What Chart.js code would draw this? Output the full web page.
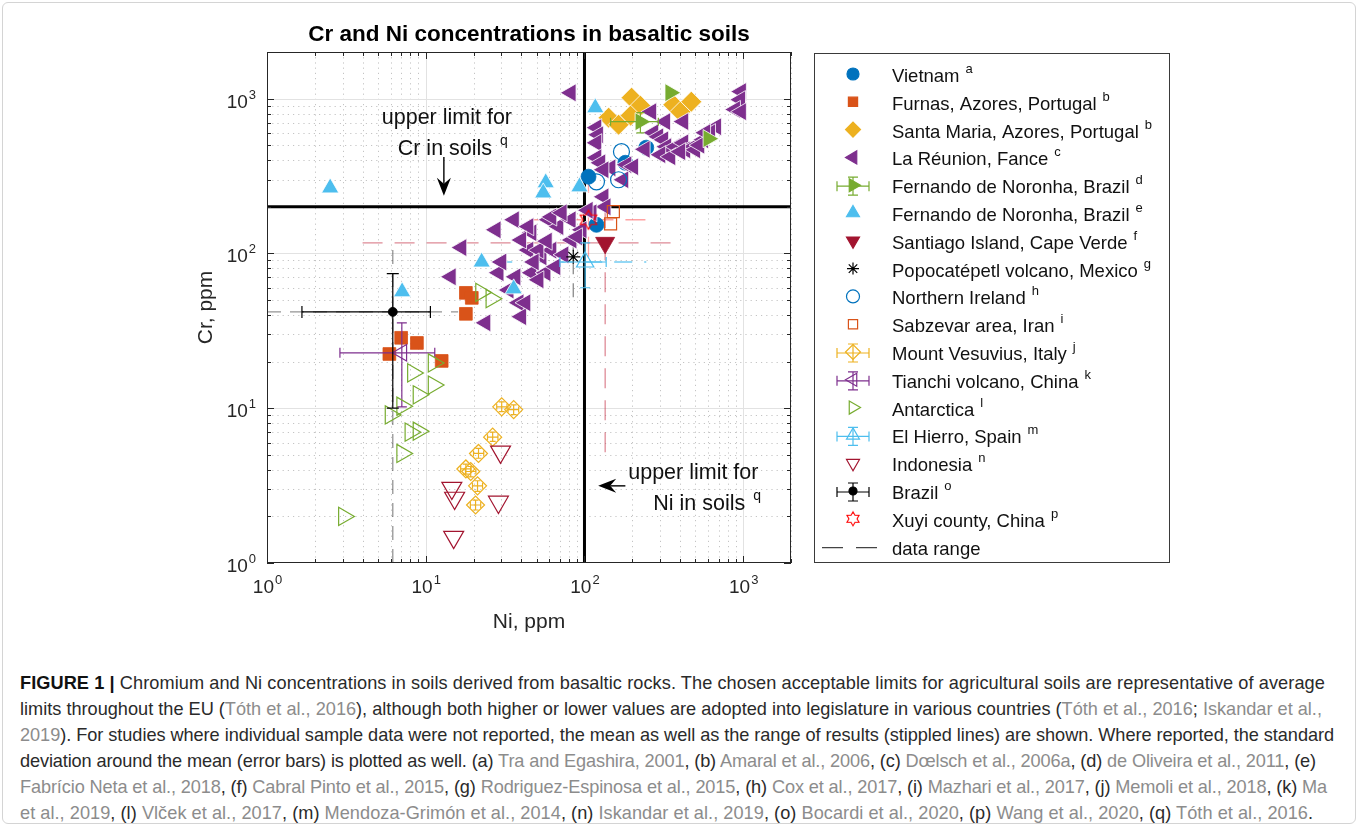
<!DOCTYPE html>
<html>
<head>
<meta charset="utf-8">
<title>Cr and Ni concentrations in basaltic soils</title>
<script src="https://cdn.jsdelivr.net/npm/chart.js@4.4.1/dist/chart.umd.min.js"></script>
<style>
  html, body { margin: 0; padding: 0; background: #fff; }
  body { width: 1360px; height: 827px; position: relative; overflow: hidden;
         font-family: "Liberation Sans", Arial, Helvetica, sans-serif; }
  #frame { position: absolute; left: 2px; top: 2px; width: 1354px; height: 822px;
           border: 1px solid #d4d4d4; border-radius: 6px; box-sizing: border-box; }
  #chartWrap { position: absolute; left: 0; top: 0; width: 1360px; height: 660px; }
  #caption { position: absolute; left: 20px; top: 670px; font-size: 16px; line-height: 26px; color: #2a2a2a; }
  #caption div { white-space: nowrap; display: inline-block; clear: both; float: left; }
  #caption b { font-weight: bold; color: #111; }
  .ref { color: #8c8c8c; }
</style>
</head>
<body>
<div id="frame"></div>
<div id="chartWrap"><canvas id="basaltChart"></canvas></div>
<div id="caption">
  <div data-end="1325"><b>FIGURE 1 |</b> Chromium and Ni concentrations in soils derived from basaltic rocks. The chosen acceptable limits for agricultural soils are representative of average</div>
  <div data-end="1322">limits throughout the EU (<span class="ref">Tóth et al., 2016</span>), although both higher or lower values are adopted into legislature in various countries (<span class="ref">Tóth et al., 2016</span>; <span class="ref">Iskandar et al.,</span></div>
  <div data-end="1334"><span class="ref">2019</span>). For studies where individual sample data were not reported, the mean as well as the range of results (stippled lines) are shown. Where reported, the standard</div>
  <div data-end="1316">deviation around the mean (error bars) is plotted as well. (a) <span class="ref">Tra and Egashira, 2001</span>, (b) <span class="ref">Amaral et al., 2006</span>, (c) <span class="ref">Dœlsch et al., 2006a</span>, (d) <span class="ref">de Oliveira et al., 2011</span>, (e)</div>
  <div data-end="1327"><span class="ref">Fabrício Neta et al., 2018</span>, (f) <span class="ref">Cabral Pinto et al., 2015</span>, (g) <span class="ref">Rodriguez-Espinosa et al., 2015</span>, (h) <span class="ref">Cox et al., 2017</span>, (i) <span class="ref">Mazhari et al., 2017</span>, (j) <span class="ref">Memoli et al., 2018</span>, (k) <span class="ref">Ma</span></div>
  <div data-end="1313"><span class="ref">et al., 2019</span>, (l) <span class="ref">Vlček et al., 2017</span>, (m) <span class="ref">Mendoza-Grimón et al., 2014</span>, (n) <span class="ref">Iskandar et al., 2019</span>, (o) <span class="ref">Bocardi et al., 2020</span>, (p) <span class="ref">Wang et al., 2020</span>, (q) <span class="ref">Tóth et al., 2016</span>.</div>
</div>

<script>
// ---------------- data (ppm) ----------------
const axisMin = 1;
const axisMax = 2000;
const tickValues = [1, 10, 100, 1000];
const tickExponents = ['0', '1', '2', '3'];

// EU upper limits (Tóth et al., 2016)
const limitCr = 200;
const limitNi = 100;

const vietnamNi = [106, 119, 181, 245];
const vietnamCr = [313, 153, 385, 482];

const furnasNi = [17.9, 19.5, 17.9, 7.0, 8.8, 5.9, 12.6];
const furnasCr = [55.6, 51.6, 40.7, 28.5, 26.4, 22.4, 20.2];

const santaMariaNi = [198, 225, 195, 142, 164, 363, 402, 471];
const santaMariaCr = [1014, 900, 776, 753, 678, 913, 823, 955];

const reunionNi = [82, 970, 958, 890, 970, 264, 323, 420, 676, 620, 119, 122, 119, 119, 126, 146, 184, 203,
  272, 292, 314, 328, 374, 420, 432, 485, 499, 560, 577, 301, 348, 402, 132, 176, 132, 136, 111,
  36, 27.6, 16.8, 14.4, 23.8, 46.4, 59.4, 68.6, 82, 44.4, 53.7, 62, 28.8, 36.8, 46.4, 56.9, 38.5,
  40, 51.4, 96, 83, 65.7, 33.3, 42.5, 44.4, 62, 72, 40, 51.4, 73.8, 58, 30, 48, 90, 105, 240, 530];
const reunionCr = [1090, 1110, 984, 850, 823, 823, 710, 710, 658, 602, 649, 584, 518, 415, 385, 357, 374, 363,
  602, 567, 542, 489, 489, 518, 467, 489, 467, 542, 602, 434, 421, 454, 347, 299, 232, 200, 183,
  165, 142, 109, 70.6, 35.6, 136, 165, 149, 165, 105, 95, 105, 75, 70.6, 75, 75, 48,
  39, 67.5, 142, 122, 82, 58, 48, 149, 172, 183, 122, 105, 98, 120, 88, 88, 128, 190, 470, 500];

const noronhaDNi = [347, 225, 603];
const noronhaDCr = [1092, 709, 551];
const noronhaDNiLo = [null, 146, null];
const noronhaDNiHi = [null, 292, null];
const noronhaDCrLo = [null, 600, null];
const noronhaDCrHi = [null, 811, null];

const noronhaENi = [2.5, 7.1, 22.5, 35.8, 117, 57, 55, 93];
const noronhaECr = [265, 56.5, 88, 59, 873, 286, 246, 269];

const santiagoNi = [135];
const santiagoCr = [117];

const popocatepetlNi = [85];
const popocatepetlCr = [95];

const irelandNi = [171, 119, 164];
const irelandCr = [454, 290, 299];

const sabzevarNi = [152, 146];
const sabzevarCr = [186, 155];

const vesuviusNi = [30.1, 35.8, 26.4, 21.5, 17.9, 19.2, 21.2, 20.6];
const vesuviusCr = [10.2, 9.8, 6.5, 5.1, 4.05, 3.9, 3.15, 2.37];
const vesuviusNiLo = [28, 33, 24.5, 20, 16.6, 17.8, 19.7, 19.1];
const vesuviusNiHi = [32.5, 38.5, 28.5, 23.2, 19.3, 20.7, 22.8, 22.2];
const vesuviusCrLo = [9.5, 9.1, 6.1, 4.75, 3.75, 3.6, 2.9, 2.2];
const vesuviusCrHi = [11, 10.5, 7, 5.5, 4.35, 4.2, 3.4, 2.55];

const tianchiNi = [7.07];
const tianchiCr = [22.8];
const tianchiNiLo = [2.88];
const tianchiNiHi = [11.4];
const tianchiCrLo = [10.2];
const tianchiCrHi = [35.6];

const antarcticaNi = [8.3, 11.2, 11.2, 9.0, 7.1, 6.0, 8.0, 9.0, 7.1, 3.05, 22.3, 25.9];
const antarcticaCr = [16.9, 19.6, 14.1, 12.2, 10.3, 9.05, 7.0, 7.1, 5.1, 2.0, 56, 51];

const hierroNi = [101];
const hierroCr = [88];
const hierroNiLo = [70];
const hierroNiHi = [137];
const hierroCrLo = [60];
const hierroCrHi = [117];

const indonesiaNi = [14.6, 15.2, 29.6, 28.7, 15.0];
const indonesiaCr = [3.05, 2.63, 5.22, 2.48, 1.47];

const brazilNi = [6.2];
const brazilCr = [41.9];
const brazilNiLo = [1.66];
const brazilNiHi = [10.7];
const brazilCrLo = [10];
const brazilCrHi = [74];

const xuyiNi = [106];
const xuyiCr = [165];

// data ranges (stippled lines): end points
const brazilRangeNi = [1, 16];       // at Cr = brazilCr
const brazilRangeCr = [1, 119];      // at Ni = brazilNi
const santiagoRangeNi = [4, 410];
const santiagoRangeCr = [5.2, 240];
const xuyiRangeNi = [45, 260];
const xuyiRangeCr = [95, 330];
const hierroRangeNi = [27, 245];
const popocatepetlRangeCr = [52, 140];

const seriesLabels = ['Vietnam', 'Furnas, Azores, Portugal', 'Santa Maria, Azores, Portugal', 'La Réunion, Fance',
  'Fernando de Noronha, Brazil', 'Fernando de Noronha, Brazil', 'Santiago Island, Cape Verde',
  'Popocatépetl volcano, Mexico', 'Northern Ireland', 'Sabzevar area, Iran', 'Mount Vesuvius, Italy',
  'Tianchi volcano, China', 'Antarctica', 'El Hierro, Spain', 'Indonesia', 'Brazil', 'Xuyi county, China'];
const seriesRefs = ['a', 'b', 'b', 'c', 'd', 'e', 'f', 'g', 'h', 'i', 'j', 'k', 'l', 'm', 'n', 'o', 'p'];

// ---------------- styles ----------------
const FONT = '"Liberation Sans", Arial, Helvetica, sans-serif';
const AX = '#262626';

function hexagramCanvas(size, outer, color, lw) {
  const c = document.createElement('canvas');
  c.width = size; c.height = size;
  const g = c.getContext('2d');
  const inner = outer / Math.sqrt(3);
  g.strokeStyle = color; g.lineWidth = lw;
  g.beginPath();
  for (let j = 0; j < 12; j++) {
    const a = -Math.PI / 2 + j * Math.PI / 6;
    const r = j % 2 === 0 ? outer : inner;
    const px = size / 2 + r * Math.cos(a), py = size / 2 + r * Math.sin(a);
    if (j === 0) g.moveTo(px, py); else g.lineTo(px, py);
  }
  g.closePath();
  g.stroke();
  return c;
}
const hexBig = hexagramCanvas(24, 9.5, '#FF0000', 1.2);
const hexSmall = hexagramCanvas(18, 7, '#FF0000', 1.1);

// marker look per series (same order as seriesLabels)
const seriesStyles = [
  { shape: 'circle',   rot: 0,   color: '#0072BD', fill: true,  r: 7.5, edge: '#0072BD', lr: 6 },
  { shape: 'rect',     rot: 0,   color: '#D95319', fill: true,  r: 9,   edge: '#D95319', lr: 6.5 },
  { shape: 'rectRot',  rot: 0,   color: '#EDB120', fill: true,  r: 10.5, edge: '#ffffff', lr: 7.5 },
  { shape: 'triangle', rot: -90, color: '#7E2F8E', fill: true,  r: 10.5, edge: '#ffffff', lr: 7.5 },
  { shape: 'triangle', rot: 90,  color: '#77AC30', fill: true,  r: 10.5, edge: '#ffffff', lr: 7.5 },
  { shape: 'triangle', rot: 0,   color: '#4DBEEE', fill: true,  r: 10,  edge: '#ffffff', lr: 7.5 },
  { shape: 'triangle', rot: 180, color: '#A2142F', fill: true,  r: 11,  edge: '#A2142F', lr: 7.5 },
  { shape: 'star',     rot: 0,   color: '#000000', fill: false, r: 7,   edge: '#000000', lr: 6 },
  { shape: 'circle',   rot: 0,   color: '#0072BD', fill: false, r: 8,   edge: '#0072BD', lr: 6.5 },
  { shape: 'rect',     rot: 0,   color: '#D95319', fill: false, r: 8.5, edge: '#D95319', lr: 6.5 },
  { shape: 'rectRot',  rot: 0,   color: '#EDB120', fill: false, r: 9,   edge: '#EDB120', lr: 7.5 },
  { shape: 'triangle', rot: -90, color: '#7E2F8E', fill: false, r: 9.5, edge: '#7E2F8E', lr: 7.5 },
  { shape: 'triangle', rot: 90,  color: '#77AC30', fill: false, r: 10.5, edge: '#77AC30', lr: 7.5 },
  { shape: 'triangle', rot: 0,   color: '#4DBEEE', fill: false, r: 10,  edge: '#4DBEEE', lr: 7.5 },
  { shape: 'triangle', rot: 180, color: '#A2142F', fill: false, r: 11.5, edge: '#A2142F', lr: 7.5 },
  { shape: 'circle',   rot: 0,   color: '#000000', fill: true,  r: 4.5, edge: '#000000', lr: 4 },
  { shape: hexBig,     rot: 0,   color: '#FF0000', fill: false, r: 8,   edge: '#FF0000', lr: 6, small: hexSmall }
];

const seriesNi = [vietnamNi, furnasNi, santaMariaNi, reunionNi, noronhaDNi, noronhaENi, santiagoNi, popocatepetlNi,
  irelandNi, sabzevarNi, vesuviusNi, tianchiNi, antarcticaNi, hierroNi, indonesiaNi, brazilNi, xuyiNi];
const seriesCr = [vietnamCr, furnasCr, santaMariaCr, reunionCr, noronhaDCr, noronhaECr, santiagoCr, popocatepetlCr,
  irelandCr, sabzevarCr, vesuviusCr, tianchiCr, antarcticaCr, hierroCr, indonesiaCr, brazilCr, xuyiCr];
const seriesErr = {
  4:  { niLo: noronhaDNiLo, niHi: noronhaDNiHi, crLo: noronhaDCrLo, crHi: noronhaDCrHi, cap: 4 },
  10: { niLo: vesuviusNiLo, niHi: vesuviusNiHi, crLo: vesuviusCrLo, crHi: vesuviusCrHi, cap: 3 },
  11: { niLo: tianchiNiLo, niHi: tianchiNiHi, crLo: tianchiCrLo, crHi: tianchiCrHi, cap: 5 },
  13: { niLo: hierroNiLo, niHi: hierroNiHi, crLo: hierroCrLo, crHi: hierroCrHi, cap: 5 },
  15: { niLo: brazilNiLo, niHi: brazilNiHi, crLo: brazilCrLo, crHi: brazilCrHi, cap: 6 }
};

function pairs(xs, ys) {
  return xs.map((x, i) => ({ x: x, y: ys[i] }));
}

// ---------------- datasets ----------------
function lineSet(points, color, width, dash, order) {
  return {
    data: points, showLine: true, borderColor: color, borderWidth: width, borderDash: dash,
    pointRadius: 0, pointHoverRadius: 0, order: order
  };
}

const datasets = [];
datasets.push(lineSet([{ x: brazilRangeNi[0], y: brazilCr[0] }, { x: brazilRangeNi[1], y: brazilCr[0] }], 'rgba(60,60,60,0.55)', 1.3, [14, 9], 90));
datasets.push(lineSet([{ x: brazilNi[0], y: brazilRangeCr[0] }, { x: brazilNi[0], y: brazilRangeCr[1] }], 'rgba(60,60,60,0.55)', 1.3, [14, 9], 90));
datasets.push(lineSet([{ x: santiagoRangeNi[0], y: santiagoCr[0] }, { x: santiagoRangeNi[1], y: santiagoCr[0] }], 'rgba(200,60,80,0.6)', 1.3, [20, 12], 90));
datasets.push(lineSet([{ x: santiagoNi[0], y: santiagoRangeCr[0] }, { x: santiagoNi[0], y: santiagoRangeCr[1] }], 'rgba(200,60,80,0.6)', 1.3, [20, 12], 90));
datasets.push(lineSet([{ x: xuyiRangeNi[0], y: xuyiCr[0] }, { x: xuyiRangeNi[1], y: xuyiCr[0] }], 'rgba(255,70,70,0.5)', 1.3, [20, 12], 90));
datasets.push(lineSet([{ x: xuyiNi[0], y: xuyiRangeCr[0] }, { x: xuyiNi[0], y: xuyiRangeCr[1] }], 'rgba(255,70,70,0.5)', 1.3, [20, 12], 90));
datasets.push(lineSet([{ x: hierroRangeNi[0], y: hierroCr[0] }, { x: hierroRangeNi[1], y: hierroCr[0] }], 'rgba(77,190,238,0.8)', 1.3, [18, 12], 90));
datasets.push(lineSet([{ x: popocatepetlNi[0], y: popocatepetlRangeCr[0] }, { x: popocatepetlNi[0], y: popocatepetlRangeCr[1] }], 'rgba(60,60,60,0.6)', 1.3, [14, 9], 90));
datasets.push(lineSet([{ x: axisMin, y: limitCr }, { x: axisMax, y: limitCr }], '#000000', 3, [], 80));
datasets.push(lineSet([{ x: limitNi, y: axisMin }, { x: limitNi, y: axisMax }], '#000000', 3, [], 80));

seriesLabels.forEach((label, i) => {
  const st = seriesStyles[i];
  datasets.push({
    label: label,
    data: pairs(seriesNi[i], seriesCr[i]),
    showLine: false,
    pointStyle: st.shape,
    pointRotation: st.rot,
    pointRadius: st.r,
    pointHoverRadius: st.r,
    pointBackgroundColor: st.fill ? st.color : 'rgba(0,0,0,0)',
    pointBorderColor: st.edge,
    pointBorderWidth: st.fill ? 0.8 : 1.2,
    order: 50 - i,
    errBars: seriesErr[i] || null,
    errColor: st.color
  });
});

// ---------------- drawing helpers ----------------
function drawShape(ctx, st, x, y, r) {
  ctx.save();
  if (typeof st.shape !== 'string') {
    const img = st.small || st.shape;
    ctx.drawImage(img, x - img.width / 2, y - img.height / 2);
    ctx.restore();
    return;
  }
  let rad = (st.rot || 0) * Math.PI / 180;
  ctx.beginPath();
  if (st.shape === 'circle') {
    ctx.arc(x, y, r, 0, Math.PI * 2);
  } else if (st.shape === 'rect') {
    const s = r * Math.SQRT1_2;
    ctx.rect(x - s, y - s, 2 * s, 2 * s);
  } else if (st.shape === 'rectRot') {
    ctx.moveTo(x - r, y); ctx.lineTo(x, y - r); ctx.lineTo(x + r, y); ctx.lineTo(x, y + r); ctx.closePath();
  } else if (st.shape === 'triangle') {
    for (let k = 0; k < 3; k++) {
      const px = x + Math.sin(rad) * r, py = y - Math.cos(rad) * r;
      if (k === 0) ctx.moveTo(px, py); else ctx.lineTo(px, py);
      rad += Math.PI * 2 / 3;
    }
    ctx.closePath();
  } else if (st.shape === 'star') {
    for (let k = 0; k < 4; k++) {
      const a = k * Math.PI / 4;
      ctx.moveTo(x - Math.cos(a) * r, y - Math.sin(a) * r);
      ctx.lineTo(x + Math.cos(a) * r, y + Math.sin(a) * r);
    }
  }
  ctx.lineWidth = 1.2;
  if (st.fill) { ctx.fillStyle = st.color; ctx.fill(); }
  ctx.strokeStyle = st.color;
  ctx.stroke();
  ctx.restore();
}

function textWithSup(ctx, x, y, main, sup, mainFont, supFont, gap, rise) {
  ctx.font = mainFont;
  ctx.fillText(main, x, y);
  const w = ctx.measureText(main).width;
  ctx.font = supFont;
  ctx.fillText(sup, x + w + gap, y - rise);
  return w + gap + ctx.measureText(sup).width;
}

function drawGrid(chart) {
  const { ctx, chartArea: a } = chart;
  const xs = chart.scales.x, ys = chart.scales.y;
  ctx.save();
  ctx.lineWidth = 1;
  tickValues.forEach((dec) => {
    for (let m = 1; m <= 9; m++) {
      const v = dec * m;
      if (v > axisMax) continue;
      const px = Math.round(xs.getPixelForValue(v)) + 0.5;
      const py = Math.round(ys.getPixelForValue(v)) + 0.5;
      if (m === 1) {
        ctx.setLineDash([]);
        ctx.strokeStyle = '#e2e2e2';
      } else {
        ctx.setLineDash([1.2, 4]);
        ctx.strokeStyle = '#c4c4c4';
      }
      if (v > axisMin) {
        ctx.beginPath(); ctx.moveTo(px, a.top); ctx.lineTo(px, a.bottom); ctx.stroke();
        ctx.beginPath(); ctx.moveTo(a.left, py); ctx.lineTo(a.right, py); ctx.stroke();
      }
    }
  });
  ctx.restore();
}

function drawErrorBars(chart, index) {
  const ds = chart.data.datasets[index];
  if (!ds.errBars) return;
  const { ctx } = chart;
  const xs = chart.scales.x, ys = chart.scales.y;
  const e = ds.errBars;
  ctx.save();
  ctx.strokeStyle = ds.errColor;
  ctx.lineWidth = 1.2;
  ds.data.forEach((p, i) => {
    if (e.niLo[i] == null) return;
    const cx = xs.getPixelForValue(p.x), cy = ys.getPixelForValue(p.y);
    const x0 = xs.getPixelForValue(e.niLo[i]), x1 = xs.getPixelForValue(e.niHi[i]);
    const y0 = ys.getPixelForValue(e.crLo[i]), y1 = ys.getPixelForValue(e.crHi[i]);
    ctx.beginPath();
    ctx.moveTo(x0, cy); ctx.lineTo(x1, cy);
    ctx.moveTo(x0, cy - e.cap); ctx.lineTo(x0, cy + e.cap);
    ctx.moveTo(x1, cy - e.cap); ctx.lineTo(x1, cy + e.cap);
    ctx.moveTo(cx, y0); ctx.lineTo(cx, y1);
    ctx.moveTo(cx - e.cap, y0); ctx.lineTo(cx + e.cap, y0);
    ctx.moveTo(cx - e.cap, y1); ctx.lineTo(cx + e.cap, y1);
    ctx.stroke();
  });
  ctx.restore();
}

function drawArrow(ctx, tipX, tipY, tailX, tailY) {
  const ang = Math.atan2(tipY - tailY, tipX - tailX);
  const len = 18, half = 7, notch = 12;
  ctx.save();
  ctx.translate(tipX, tipY);
  ctx.rotate(ang);
  ctx.strokeStyle = '#000'; ctx.fillStyle = '#000'; ctx.lineWidth = 1.4;
  const tail = Math.hypot(tipX - tailX, tipY - tailY);
  ctx.beginPath(); ctx.moveTo(-notch, 0); ctx.lineTo(-tail, 0); ctx.stroke();
  ctx.beginPath();
  ctx.moveTo(0, 0); ctx.lineTo(-len, -half); ctx.lineTo(-notch, 0); ctx.lineTo(-len, half); ctx.closePath();
  ctx.fill();
  ctx.restore();
}

function drawFrameAndText(chart) {
  const { ctx, chartArea: a } = chart;
  const xs = chart.scales.x, ys = chart.scales.y;
  ctx.save();

  // axes box
  ctx.strokeStyle = AX; ctx.lineWidth = 1; ctx.setLineDash([]);
  ctx.strokeRect(a.left + 0.5, a.top + 0.5, a.right - a.left - 1, a.bottom - a.top - 1);

  // inward tick marks on all four sides
  ctx.beginPath();
  tickValues.forEach((dec) => {
    for (let m = 1; m <= 9; m++) {
      const v = dec * m;
      if (v > axisMax) continue;
      const len = m === 1 ? 7 : 4;
      const px = Math.round(xs.getPixelForValue(v)) + 0.5;
      const py = Math.round(ys.getPixelForValue(v)) + 0.5;
      ctx.moveTo(px, a.bottom); ctx.lineTo(px, a.bottom - len);
      ctx.moveTo(px, a.top); ctx.lineTo(px, a.top + len);
      ctx.moveTo(a.left, py); ctx.lineTo(a.left + len, py);
      ctx.moveTo(a.right, py); ctx.lineTo(a.right - len, py);
    }
  });
  ctx.stroke();

  // tick labels 10^n
  ctx.fillStyle = AX;
  ctx.textBaseline = 'alphabetic';
  ctx.textAlign = 'left';
  const mainF = '19px ' + FONT, expF = '13px ' + FONT;
  tickValues.forEach((v, i) => {
    ctx.font = mainF; const w10 = ctx.measureText('10').width;
    ctx.font = expF; const we = ctx.measureText(tickExponents[i]).width;
    const px = xs.getPixelForValue(v);
    textWithSup(ctx, px - (w10 + we) / 2, a.bottom + 30, '10', tickExponents[i], mainF, expF, 1, 9);
    const py = ys.getPixelForValue(v);
    textWithSup(ctx, a.left - 12 - (w10 + we), py + 9, '10', tickExponents[i], mainF, expF, 1, 9);
  });

  // axis titles
  ctx.font = '21px ' + FONT;
  ctx.textAlign = 'center';
  ctx.fillText('Ni, ppm', (a.left + a.right) / 2, a.bottom + 65);
  ctx.save();
  ctx.translate(a.left - 55, (a.top + a.bottom) / 2);
  ctx.rotate(-Math.PI / 2);
  ctx.fillText('Cr, ppm', 0, 0);
  ctx.restore();

  // title
  ctx.fillStyle = '#000';
  ctx.font = 'bold 22.5px ' + FONT;
  ctx.fillText('Cr and Ni concentrations in basaltic soils', (a.left + a.right) / 2, a.top - 11);

  // limit annotations
  ctx.fillStyle = '#111';
  ctx.textAlign = 'left';
  const annF = '21.5px ' + FONT, annSup = '14px ' + FONT;
  ctx.font = annF;
  let cx = xs.getPixelForValue(13.2);
  let w = ctx.measureText('upper limit for').width;
  ctx.fillText('upper limit for', cx - w / 2 + 2, ys.getPixelForValue(777) + 8);
  ctx.font = annF; w = ctx.measureText('Cr in soils').width;
  textWithSup(ctx, cx - w / 2, ys.getPixelForValue(489) + 8, 'Cr in soils', 'q', annF, annSup, 8, 10);
  drawArrow(ctx, cx - 1, ys.getPixelForValue(236), cx - 1, ys.getPixelForValue(420));

  cx = xs.getPixelForValue(485);
  ctx.font = annF; w = ctx.measureText('upper limit for').width;
  ctx.fillText('upper limit for', cx - w / 2, ys.getPixelForValue(3.93) + 8);
  ctx.font = annF; w = ctx.measureText('Ni in soils').width;
  textWithSup(ctx, xs.getPixelForValue(560) - w / 2 - 4, ys.getPixelForValue(2.48) + 8, 'Ni in soils', 'q', annF, annSup, 8, 10);
  drawArrow(ctx, xs.getPixelForValue(122), ys.getPixelForValue(3.15), xs.getPixelForValue(181), ys.getPixelForValue(3.15));

  ctx.restore();
}

function drawLegend(chart) {
  const { ctx } = chart;
  const box = { left: 814, top: 53, right: 1169, bottom: 562 };
  ctx.save();
  ctx.fillStyle = '#fff';
  ctx.fillRect(box.left, box.top, box.right - box.left, box.bottom - box.top);
  ctx.strokeStyle = '#3a3a3a'; ctx.lineWidth = 1;
  ctx.strokeRect(box.left + 0.5, box.top + 0.5, box.right - box.left, box.bottom - box.top);

  const iconX = 853, textX = 892, rowTop = 75, step = 27.8;
  const mainF = '18.5px ' + FONT, supF = '13px ' + FONT;
  seriesLabels.forEach((label, i) => {
    const st = seriesStyles[i];
    const y = rowTop + i * step;
    if (seriesErr[i]) {
      ctx.save();
      ctx.strokeStyle = st.color; ctx.lineWidth = 1.2;
      ctx.beginPath();
      ctx.moveTo(iconX - 16, y); ctx.lineTo(iconX + 16, y);
      ctx.moveTo(iconX - 16, y - 5); ctx.lineTo(iconX - 16, y + 5);
      ctx.moveTo(iconX + 16, y - 5); ctx.lineTo(iconX + 16, y + 5);
      ctx.moveTo(iconX, y - 9); ctx.lineTo(iconX, y + 9);
      ctx.moveTo(iconX - 5, y - 9); ctx.lineTo(iconX + 5, y - 9);
      ctx.moveTo(iconX - 5, y + 9); ctx.lineTo(iconX + 5, y + 9);
      ctx.stroke();
      ctx.restore();
    }
    drawShape(ctx, st, iconX, y - 1, st.lr);
    ctx.fillStyle = '#111';
    ctx.textAlign = 'left';
    textWithSup(ctx, textX, y + 7, label, seriesRefs[i], mainF, supF, 6, 9);
  });
  // data range entry
  const y = rowTop + seriesLabels.length * step;
  ctx.strokeStyle = '#444'; ctx.lineWidth = 1.2;
  ctx.beginPath();
  ctx.moveTo(822, y); ctx.lineTo(843, y);
  ctx.moveTo(856, y); ctx.lineTo(877, y);
  ctx.stroke();
  ctx.fillStyle = '#111';
  ctx.font = mainF;
  ctx.fillText('data range', textX, y + 7);
  ctx.restore();
}

const decorPlugin = {
  id: 'decor',
  beforeDatasetsDraw(chart) { drawGrid(chart); },
  afterDatasetDraw(chart, args) { drawErrorBars(chart, args.index); },
  afterDraw(chart) { drawFrameAndText(chart); drawLegend(chart); }
};

// ---------------- chart ----------------
new Chart(document.getElementById('basaltChart').getContext('2d'), {
  type: 'scatter',
  data: { datasets: datasets },
  options: {
    responsive: true,
    maintainAspectRatio: false,
    animation: false,
    events: [],
    layout: { padding: { left: 0, top: 52, right: 569, bottom: 57 } },
    plugins: {
      legend: { display: false },
      title: { display: false },
      tooltip: { enabled: false }
    },
    scales: {
      x: {
        type: 'logarithmic', position: 'bottom', min: axisMin, max: axisMax,
        grid: { display: false }, border: { display: false },
        ticks: { display: false },
        afterFit: function(scale) { scale.height = 40; }
      },
      y: {
        type: 'logarithmic', position: 'left', min: axisMin, max: axisMax,
        grid: { display: false }, border: { display: false },
        ticks: { display: false },
        afterFit: function(scale) { scale.width = 267; }
      }
    }
  },
  plugins: [decorPlugin]
});

// fit caption: one common font size, then a small per-line letter spacing
(function fitCaption() {
  const lines = Array.from(document.querySelectorAll('#caption div'));
  const base = 16;
  const ratios = lines.map(function(line) {
    return (parseFloat(line.dataset.end) - 20) / line.getBoundingClientRect().width;
  }).sort(function(a, b) { return a - b; });
  const size = Math.max(14, Math.min(19, base * ratios[Math.floor(ratios.length / 2)]));
  document.getElementById('caption').style.fontSize = size.toFixed(2) + 'px';
  lines.forEach(function(line) {
    const target = parseFloat(line.dataset.end) - 20;
    const w = line.getBoundingClientRect().width;
    const ls = Math.max(-0.8, Math.min(0.8, (target - w) / line.textContent.length));
    line.style.letterSpacing = ls.toFixed(3) + 'px';
  });
})();
</script>
</body>
</html>
